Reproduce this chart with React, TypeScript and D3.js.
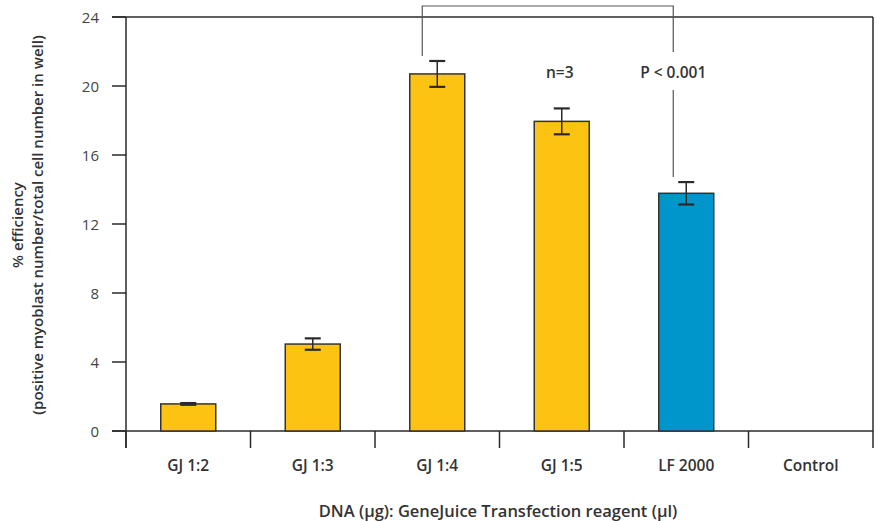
import React from "react";
import * as d3 from "d3";

const categories = ["GJ 1:2", "GJ 1:3", "GJ 1:4", "GJ 1:5", "LF 2000", "Control"];
const values = [1.57, 5.04, 20.7, 17.95, 13.78, 0];
const errors = [0.05, 0.33, 0.75, 0.75, 0.65, 0];
const colors = ["#FDC313", "#FDC313", "#FDC313", "#FDC313", "#0096CC", "#FDC313"];
const yTicks = [0, 4, 8, 12, 16, 20, 24];

const W = 877, H = 521;
const left = 126, right = 873, top = 17, bottom = 431;
const font = "'Open Sans', 'Noto Sans', sans-serif";

export default function App() {
  const x = d3.scaleBand<string>().domain(categories).range([left, right]).paddingInner(0).paddingOuter(0);
  const y = d3.scaleLinear().domain([0, 24]).range([bottom, top]);
  const bw = 55;
  const ink = "#2a2a2a";
  const cx = (c: string) => (x(c) as number) + x.bandwidth() / 2;
  const bx1 = cx("GJ 1:4") - 15;
  const bx2 = cx("LF 2000") - 13;
  return (
    <svg width={W} height={H} style={{ position: "absolute", left: 0, top: 0, background: "#fff" }}>
      {/* frame */}
      <line x1={112} x2={right} y1={top} y2={top} stroke={ink} strokeWidth={1.5} />
      <line x1={right} x2={right} y1={top} y2={448} stroke={ink} strokeWidth={1.5} />
      <line x1={left} x2={left} y1={top} y2={448} stroke={ink} strokeWidth={1.5} />
      <line x1={112} x2={right} y1={bottom} y2={bottom} stroke={ink} strokeWidth={1.5} />
      {yTicks.map((t) => (
        <g key={t}>
          <line x1={112} x2={left} y1={y(t)} y2={y(t)} stroke={ink} strokeWidth={1.5} />
          <text x={99} y={y(t) + 5.5} textAnchor="end" fontFamily={font} fontSize={15} fill="#444">{t}</text>
        </g>
      ))}
      {categories.map((c) => (
        <line key={"t" + c} x1={x(c) as number} x2={x(c) as number} y1={bottom} y2={448} stroke={ink} strokeWidth={1.5} />
      ))}
      {categories.map((c, i) => (
        <g key={c}>
          {values[i] > 0 && (
            <rect x={cx(c) - bw / 2} y={y(values[i])} width={bw} height={bottom - y(values[i])} fill={colors[i]} stroke="#333" strokeWidth={1.5} />
          )}
          {errors[i] > 0 && (
            <g stroke={ink} strokeWidth={2.2}>
              <line x1={cx(c)} x2={cx(c)} y1={y(values[i] + errors[i])} y2={y(values[i] - errors[i])} strokeWidth={1.5} />
              <line x1={cx(c) - 8} x2={cx(c) + 8} y1={y(values[i] + errors[i])} y2={y(values[i] + errors[i])} />
              <line x1={cx(c) - 8} x2={cx(c) + 8} y1={y(values[i] - errors[i])} y2={y(values[i] - errors[i])} />
            </g>
          )}
          <text x={cx(c)} y={471} textAnchor="middle" fontFamily={font} fontSize={15.5} fontWeight={600} fill="#333">{c}</text>
        </g>
      ))}
      {/* significance bracket */}
      <path d={`M${bx1},56 V6 H${bx2} V52`} fill="none" stroke="#555" strokeWidth={1.2} />
      <line x1={bx2} x2={bx2} y1={90} y2={177} stroke="#555" strokeWidth={1.2} />
      <text x={bx2} y={78} textAnchor="middle" fontFamily={font} fontSize={15.5} fontWeight={600} fill="#333">P &lt; 0.001</text>
      <text x={cx("GJ 1:5") - 2} y={78} textAnchor="middle" fontFamily={font} fontSize={15.5} fontWeight={600} fill="#333">n=3</text>
      {/* axis titles */}
      <text x={498} y={517} textAnchor="middle" fontFamily={font} fontSize={16.5} fontWeight={600} fill="#333">DNA (μg): GeneJuice Transfection reagent (μl)</text>
      <g transform="translate(23,225) rotate(-90)">
        <text x={0} y={0} textAnchor="middle" fontFamily={font} fontSize={15} fontWeight={600} fill="#333">% efficiency</text>
        <text x={0} y={20} textAnchor="middle" fontFamily={font} fontSize={15} fontWeight={600} fill="#333">(positive myoblast number/total cell number in well)</text>
      </g>
    </svg>
  );
}
